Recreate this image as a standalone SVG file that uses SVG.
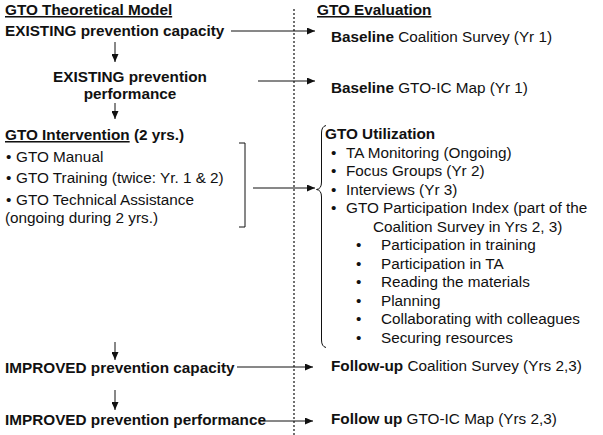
<svg xmlns="http://www.w3.org/2000/svg" width="603" height="435" viewBox="0 0 603 435">
<style>
text{font-family:"Liberation Sans",Arial,Helvetica,sans-serif;font-size:15.3px;fill:#111}
.b{font-weight:bold}
.u{text-decoration:underline}
.ln{stroke:#111;stroke-width:1;fill:none}
.div{stroke:#111;stroke-width:1.2;stroke-dasharray:2 2;fill:none}
</style>
<defs>
<marker id="ah" markerUnits="userSpaceOnUse" markerWidth="9" markerHeight="7" refX="8" refY="3.5" orient="auto">
<path d="M0,0 L8,3.5 L0,7 z" fill="#111"/>
</marker>
</defs>
<rect width="603" height="435" fill="#fff"/>
<line id="divider" class="div" x1="294" y1="9" x2="294" y2="435"/>
<g id="theory-title"><text x="5" y="15" class="b u">GTO Theoretical Model</text></g>
<g id="existing-capacity"><text x="5" y="36" class="b">EXISTING prevention capacity</text></g>
<g id="existing-performance"><text x="130" y="82" class="b" text-anchor="middle">EXISTING prevention</text><text x="130" y="98.5" class="b" text-anchor="middle">performance</text></g>
<g id="intervention">
<text x="5" y="140" class="b"><tspan class="u">GTO Intervention</tspan> (2 yrs.)</text>
<text x="6" y="162">•<tspan x="16">GTO Manual</tspan></text>
<text x="6" y="183">•<tspan x="16">GTO Training (twice: Yr. 1 &amp; 2)</tspan></text>
<text x="6" y="204.5">•<tspan x="16">GTO Technical Assistance</tspan></text>
<text x="5" y="223">(ongoing during 2 yrs.)</text>
<path class="ln" d="M239,143 H245 V227 H239"/>
</g>
<g id="improved-capacity"><text x="5" y="373" class="b">IMPROVED prevention capacity</text></g>
<g id="improved-performance"><text x="5" y="425" class="b">IMPROVED prevention performance</text></g>
<g id="eval-title"><text x="317" y="15" class="b u">GTO Evaluation</text></g>
<g id="baseline-survey"><text x="331" y="42"><tspan class="b">Baseline</tspan> Coalition Survey (Yr 1)</text></g>
<g id="baseline-map"><text x="331" y="93"><tspan class="b">Baseline</tspan> GTO-IC Map (Yr 1)</text></g>
<g id="utilization">
<path class="ln" d="M326,125.5 Q321.5,126.5 321.5,133 L321.5,182 Q321.5,189 316.5,189.5 Q321.5,190 321.5,197 L321.5,340 Q321.5,346.5 326,347.5"/>
<text x="325" y="139" class="b">GTO Utilization</text>
<text x="331" y="157.5">•<tspan x="346">TA Monitoring (Ongoing)</tspan></text>
<text x="331" y="176">•<tspan x="346">Focus Groups (Yr 2)</tspan></text>
<text x="331" y="194.5">•<tspan x="346">Interviews (Yr 3)</tspan></text>
<text x="331" y="213">•<tspan x="346">GTO Participation Index (part of the</tspan></text>
<text x="373" y="231.5">Coalition Survey in Yrs 2, 3)</text>
<text x="356" y="250">•<tspan x="381">Participation in training</tspan></text>
<text x="356" y="268.5">•<tspan x="381">Participation in TA</tspan></text>
<text x="356" y="287">•<tspan x="381">Reading the materials</tspan></text>
<text x="356" y="305.5">•<tspan x="381">Planning</tspan></text>
<text x="356" y="324">•<tspan x="381">Collaborating with colleagues</tspan></text>
<text x="356" y="342.5">•<tspan x="381">Securing resources</tspan></text>
</g>
<g id="followup-survey"><text x="331" y="371"><tspan class="b">Follow-up</tspan> Coalition Survey (Yrs 2,3)</text></g>
<g id="followup-map"><text x="331" y="424"><tspan class="b">Follow up</tspan> GTO-IC Map (Yrs 2,3)</text></g>
<g id="connectors" class="ln">
<line x1="115" y1="42" x2="115" y2="62" marker-end="url(#ah)"/>
<line x1="115" y1="103" x2="115" y2="119" marker-end="url(#ah)"/>
<line x1="115" y1="342" x2="115" y2="360" marker-end="url(#ah)"/>
<line x1="115" y1="390" x2="115" y2="410" marker-end="url(#ah)"/>
<line x1="231" y1="31" x2="315" y2="31" marker-end="url(#ah)"/>
<line x1="258" y1="81" x2="315" y2="81" marker-end="url(#ah)"/>
<line x1="253" y1="188" x2="315" y2="188" marker-end="url(#ah)"/>
<line x1="237" y1="367" x2="313" y2="367" marker-end="url(#ah)"/>
<line x1="260" y1="421" x2="313" y2="421" marker-end="url(#ah)"/>
</g>
</svg>
